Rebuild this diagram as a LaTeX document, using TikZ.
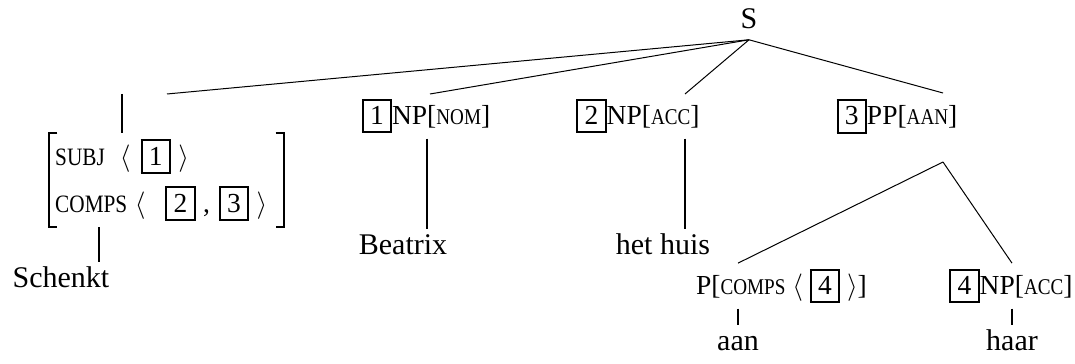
\documentclass[tikz,border=0pt]{standalone}
\usepackage{fontspec}
\setmainfont{Liberation Serif}
\newfontfamily\scfont[FakeStretch=0.85]{Liberation Serif}
\usepackage{tikz}
\usetikzlibrary{calc}
\newcommand\smc[1]{{\scfont\fontsize{9}{10}\selectfont #1}}
\newcommand\feat[1]{{\scfont\fontsize{10}{11}\selectfont #1}}
\newcommand\tagbox[1]{{\setlength\fboxsep{2.5pt}\setlength\fboxrule{0.8pt}\fbox{#1}}}
\tikzset{
  word/.style={anchor=base, inner sep=2pt, font=\fontsize{12}{14}\selectfont},
  label/.style={anchor=base, inner sep=2pt, font=\fontsize{11}{13}\selectfont},
  leaf/.style={word, text height=8pt},
  avm/.style={align=left, text width=89pt, inner xsep=2.1pt, inner ysep=2.4pt, font=\fontsize{11}{18.8}\selectfont},
  edge/.style={line width=0.4pt},
  stem/.style={line width=0.9pt},
  bracket/.style={line width=0.8pt}
}

\begin{document}
\begin{tikzpicture}[x=0.4pt, y=-0.4pt]
		\useasboundingbox (0,0) rectangle (1075,364);
		%%%%% TOP %%%%%
		\node[word, inner sep=4pt] (S) at (749,29) {S};
		
		\coordinate (h0) at (167,94);
		\coordinate (h1) at (430,94);
		\coordinate (h2) at (685,94);
		\coordinate (h3) at (943,93);
		\coordinate (v0) at (122,94);
		\coordinate (s0) at (99,0);
		\coordinate (c1) at (427,0);
		
		\node[label] (np1) at (426,125) {\tagbox{1}NP[\smc{NOM}]};
		\node[label] (np2) at (638,125) {\tagbox{2}NP[\smc{ACC}]};
		\node[label] (pp3) at (897,125) {\tagbox{3}PP[\smc{AAN}]};
		
		\draw[edge] (S.south) -- (h0);
		\draw[edge] (S.south) -- (h1);
		\draw[edge] (S.south) -- (h2);
		\draw[edge] (S.south) -- (h3);
		
		%%%%% VERB %%%%%
		\node[avm] (avm) at (166.5,180) {\mbox{\feat{SUBJ}\hspace{6pt}$\langle$\hspace{4pt}\tagbox{1}\hspace{3pt}$\rangle$}\\\mbox{\feat{COMPS}\hspace{3pt}$\langle$\hspace{8pt}\tagbox{2}\hspace{3pt},\hspace{3.5pt}\tagbox{3}\hspace{3pt}$\rangle$}};
		\draw[bracket] ([xshift=3.2pt]avm.north west) -- (avm.north west) -- (avm.south west) -- ++(3.2pt,0);
		\draw[bracket] ([xshift=-3.2pt]avm.north east) -- (avm.north east) -- (avm.south east) -- ++(-3.2pt,0);
		\draw[stem] (v0) -- (v0 |- avm.north);
		
		\node[leaf] (schenkt) at (61,288) {Schenkt};
		\draw[stem] (avm.south -| s0) -- (schenkt.north -| s0);
		
		%%%%% NPS %%%%%
		\node[leaf] (beatrix) at (403,255) {Beatrix};
		\node[leaf] (huis) at (663,255) {het huis};
		\draw[stem] (np1.south -| c1) -- (beatrix.north -| c1);
		\draw[stem] (np2.south -| h2) -- (huis.north -| h2);
		
		%%%%% PP %%%%%
		\coordinate (h4) at (943,162);
		\node[label] (pc) at (781.5,295) {P[\smc{COMPS} $\langle$ \tagbox{4} $\rangle$]};
		\node[label] (np4) at (1011,295) {\tagbox{4}NP[\smc{ACC}]};
		\node[leaf] (aan) at (738,351) {aan};
		\node[leaf] (haar) at (1012,351) {haar};
		
		\draw[edge] (h4) -- (pc.north -| aan.north);
		\draw[edge] (h4) -- (np4.north -| haar.north);
		\draw[stem] (pc.south -| aan.north) -- (aan.north);
		\draw[stem] (np4.south -| haar.north) -- (haar.north);
		%%%%% END %%%%%
\end{tikzpicture}
\end{document}
